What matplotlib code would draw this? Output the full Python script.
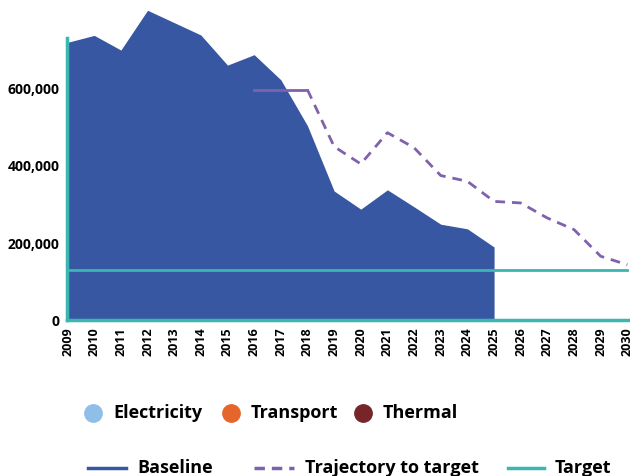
import numpy as np
import matplotlib
matplotlib.use("Agg")
import matplotlib.pyplot as plt
from matplotlib.lines import Line2D

# data
years = list(range(2009, 2031))
baseline_years = list(range(2009, 2026))
baseline = [720000, 738000, 700000, 803000, 771000, 739000, 661000, 688000,
            623000, 504000, 335000, 288000, 338000, 294000, 249000, 237000, 190000]
traj_flat_years = [2016, 2018]
traj_flat = [597000, 597000]
traj_years = list(range(2018, 2031))
trajectory = [597000, 450000, 405000, 486000, 447000, 375000, 360000,
              308000, 304000, 265000, 235000, 166000, 144000]
target_years = [2009, 2030]
target = [130000, 130000]
yticks = [0, 200000, 400000, 600000]

sectors = ['Electricity', 'Transport', 'Thermal']
sector_colors = ['#8fbee9', '#e6652b', '#762528']
series = ['Baseline', 'Trajectory to target', 'Target']

blue = '#3857a3'
purple = '#7f62ad'
teal = '#3bb6b1'

plt.rcParams['font.family'] = ['Open Sans', 'DejaVu Sans']

W, H = 630, 476
fig = plt.figure(figsize=(W / 100, H / 100), dpi=100)
ax = fig.add_axes([0.106, 0.327, 0.894, 0.593])

ax.fill_between(baseline_years, baseline, 0, color=blue, lw=0, clip_on=False, zorder=1)
ax.plot(target_years, target, color=teal, lw=2, zorder=3)
ax.plot(traj_flat_years, traj_flat, color=purple, lw=2, zorder=3, clip_on=False)
ax.plot(traj_years, trajectory, color=purple, lw=2, ls=(0, (3.5, 2.5)), zorder=3, clip_on=False)

ax.set_xlim(2008.97, 2030.1)
ax.set_ylim(0, 731000)
ax.set_xticks(years)
ax.set_xticklabels([str(y) for y in years], rotation=90, fontsize=9, fontweight='bold')
ax.set_yticks(yticks)
ax.set_yticklabels([f'{v:,}' for v in yticks], fontsize=10, fontweight='bold')
ax.tick_params(length=0)
ax.tick_params(axis='x', pad=5)
ax.tick_params(axis='y', pad=5)

for s in ['top', 'right']:
    ax.spines[s].set_visible(False)
for s in ['left', 'bottom']:
    ax.spines[s].set_color(teal)
    ax.spines[s].set_linewidth(2.5)
    ax.spines[s].set_zorder(4)

# legends drawn by hand in pixel positions (figure coords)
def fx(px):
    return px / W

def fy(py):
    return 1 - py / H

row1 = 413
marker_x = [93, 231, 363]
for name, col, mx in zip(sectors, sector_colors, marker_x):
    fig.add_artist(Line2D([fx(mx)], [fy(row1)], ls='', marker='o', ms=12.5,
                          color=col, transform=fig.transFigure))
    fig.text(fx(mx + 20), fy(row1), name, fontsize=13, fontweight='bold',
             va='center', ha='left')

row2 = 468
handle_x = [(88, 126), (254, 294), (508, 544)]
styles = [dict(color=blue, ls='-'), dict(color=purple, ls=(0, (3, 2))), dict(color=teal, ls='-')]
for name, (x0, x1), st in zip(series, handle_x, styles):
    fig.add_artist(Line2D([fx(x0), fx(x1)], [fy(row2), fy(row2)], lw=2.5,
                          transform=fig.transFigure, **st))
    fig.text(fx(x1 + 11), fy(row2), name, fontsize=13, fontweight='bold',
             va='center', ha='left')

fig.savefig('out.png', dpi=100)
